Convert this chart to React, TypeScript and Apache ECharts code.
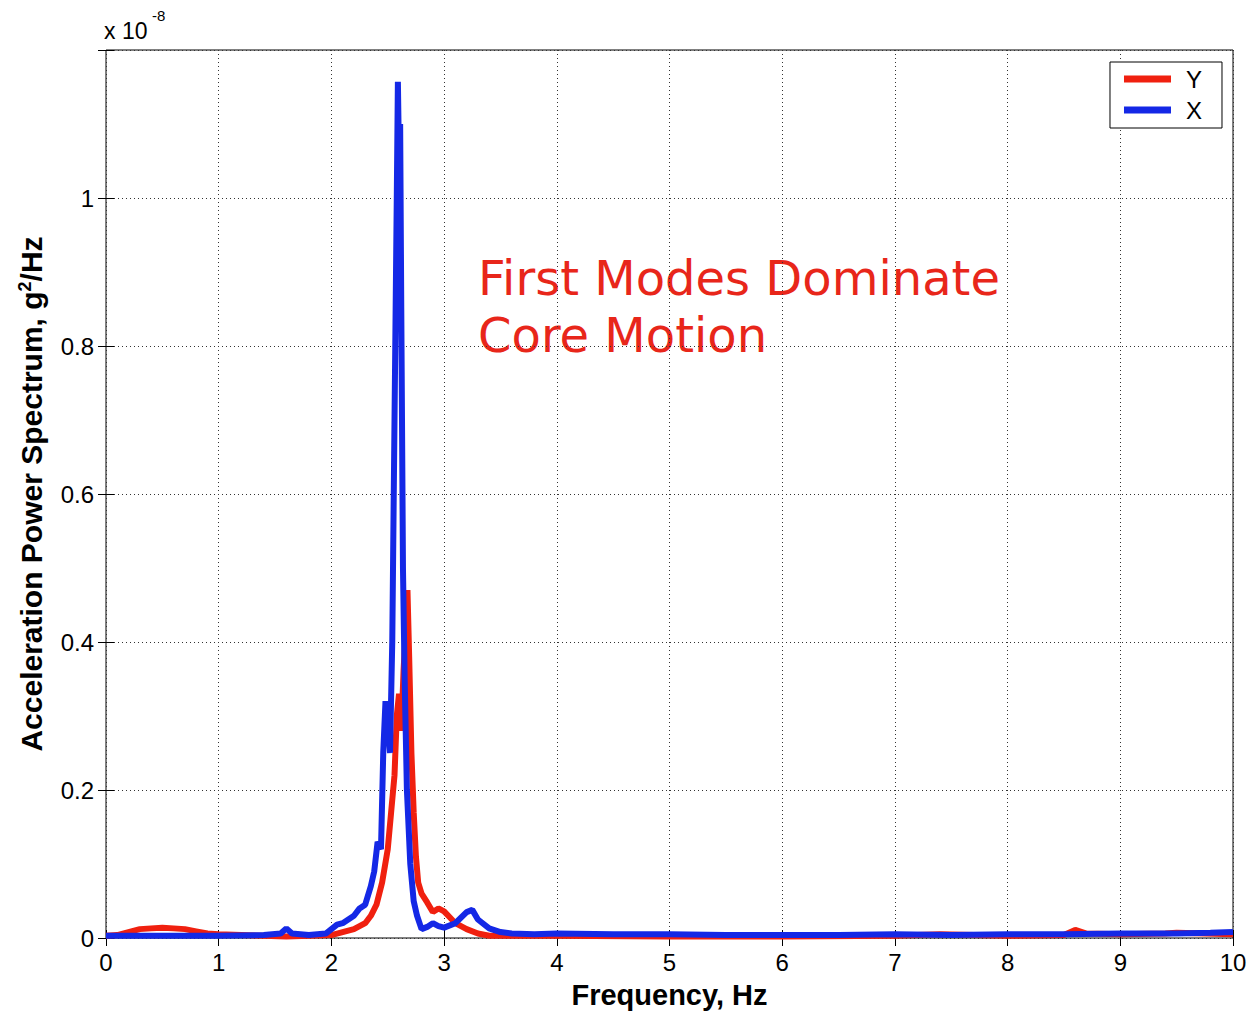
import React, { useEffect, useRef } from "react";
import * as echarts from "echarts";

// Frequency (Hz) and PSD (x1e-8 g^2/Hz)
const yFreq = [0, 0.1, 0.2, 0.3, 0.4, 0.5, 0.6, 0.7, 0.8, 0.9, 1.0, 1.2, 1.4, 1.6, 1.8, 2.0, 2.1, 2.2, 2.3, 2.35, 2.4, 2.45, 2.5, 2.53, 2.56, 2.58, 2.6, 2.62, 2.64, 2.66, 2.675, 2.69, 2.71, 2.73, 2.75, 2.77, 2.8, 2.85, 2.9, 2.95, 3.0, 3.05, 3.1, 3.2, 3.3, 3.4, 3.6, 4.0, 5.0, 6.0, 7.0, 7.4, 8.0, 8.5, 8.6, 8.7, 9.0, 9.4, 9.5, 10.0];
const yVals = [0.003, 0.004, 0.008, 0.012, 0.013, 0.014, 0.013, 0.012, 0.009, 0.006, 0.005, 0.004, 0.003, 0.002, 0.003, 0.004, 0.008, 0.012, 0.02, 0.03, 0.045, 0.075, 0.12, 0.17, 0.22, 0.3, 0.33, 0.28, 0.36, 0.42, 0.47, 0.38, 0.25, 0.17, 0.11, 0.075, 0.06, 0.048, 0.035, 0.04, 0.036, 0.028, 0.02, 0.012, 0.006, 0.003, 0.003, 0.003, 0.002, 0.002, 0.003, 0.005, 0.003, 0.004, 0.011, 0.006, 0.005, 0.006, 0.007, 0.005];

const xFreq = [0, 0.5, 1.0, 1.4, 1.55, 1.6, 1.65, 1.8, 1.95, 2.0, 2.05, 2.1, 2.15, 2.2, 2.25, 2.3, 2.35, 2.38, 2.41, 2.44, 2.46, 2.48, 2.5, 2.52, 2.54, 2.56, 2.58, 2.59, 2.6, 2.61, 2.62, 2.635, 2.65, 2.67, 2.7, 2.73, 2.76, 2.8, 2.85, 2.9, 2.95, 3.0, 3.1, 3.2, 3.25, 3.3, 3.4, 3.5, 3.6, 3.8, 4.0, 4.5, 5.0, 5.5, 6.0, 6.5, 7.0, 7.5, 8.0, 8.5, 9.0, 9.5, 9.8, 10.0];
const xVals = [0.003, 0.003, 0.003, 0.004, 0.006, 0.013, 0.006, 0.004, 0.006, 0.012, 0.018, 0.02, 0.025, 0.03, 0.04, 0.045, 0.07, 0.09, 0.13, 0.12, 0.25, 0.32, 0.3, 0.25, 0.4, 0.7, 1.0, 1.157, 1.05, 1.1, 0.85, 0.5, 0.35, 0.2, 0.1, 0.05, 0.03, 0.012, 0.015, 0.02, 0.016, 0.014, 0.02, 0.035, 0.038, 0.025, 0.013, 0.008, 0.006, 0.005, 0.006, 0.005, 0.005, 0.004, 0.004, 0.004, 0.005, 0.004, 0.005, 0.005, 0.006, 0.006, 0.007, 0.008];

const xTicks = [0, 1, 2, 3, 4, 5, 6, 7, 8, 9, 10];
const yTicks = [0, 0.2, 0.4, 0.6, 0.8, 1];

const RED = "#f0200f";
const BLUE = "#1428e6";
const FONT = "Liberation Sans";

export default function App() {
  const ref = useRef<HTMLDivElement>(null);
  useEffect(() => {
    document.body.style.margin = "0";
    document.body.style.overflow = "hidden";
    const chart = echarts.init(ref.current!, null, { renderer: "svg" });
    const grid = { left: 106, right: 18, top: 50, bottom: 75 };
    const gridLine = { show: true, lineStyle: { color: "#333", type: [1, 3] as any, width: 1 } };
    chart.setOption({
      animation: false,
      backgroundColor: "#fff",
      grid: { ...grid, show: true, borderColor: "#000", borderWidth: 1, containLabel: false, outerBoundsMode: "none" },
      legend: {
        orient: "vertical",
        right: 29,
        top: 62,
        backgroundColor: "#fff",
        borderColor: "#000",
        borderWidth: 1,
        padding: [5, 20, 6, 14],
        itemWidth: 47,
        itemHeight: 7,
        itemGap: 7,
        textStyle: { fontFamily: FONT, fontSize: 24, color: "#000", padding: [0, 0, 0, 10] },
        data: [
          { name: "Y", icon: "rect" },
          { name: "X", icon: "rect" },
        ],
      },
      xAxis: [
        {
          type: "value",
          min: 0,
          max: 10,
          interval: 1,
          name: "Frequency, Hz",
          nameLocation: "middle",
          nameGap: 42,
          nameTextStyle: { fontFamily: FONT, fontSize: 29, fontWeight: "bold", color: "#000" },
          axisLine: { show: false },
          axisTick: { show: true, inside: true, length: 8, lineStyle: { color: "#000" } },
          axisLabel: { fontFamily: FONT, fontSize: 24, color: "#000", margin: 12, formatter: (v: number) => (xTicks.includes(v) ? String(v) : "") },
          splitLine: gridLine,
        },
        {
          type: "value",
          position: "top",
          min: 0,
          max: 10,
          interval: 1,
          axisLine: { show: false },
          axisTick: { show: true, inside: true, length: 8, lineStyle: { color: "#000" } },
          axisLabel: { show: false },
          splitLine: { show: false },
        },
      ],
      yAxis: [
        {
          type: "value",
          min: 0,
          max: 1.2,
          interval: 0.2,
          name: "Acceleration Power Spectrum, g{sup|2}/Hz",
          nameLocation: "middle",
          nameGap: 60,
          nameRotate: 90,
          nameTextStyle: {
            fontFamily: FONT,
            fontSize: 30,
            fontWeight: "bold",
            color: "#000",
            rich: { sup: { fontFamily: FONT, fontSize: 18, fontWeight: "bold", color: "#000", verticalAlign: "top", padding: [0, 0, 12, 0] } },
          },
          axisLine: { show: false },
          axisTick: { show: true, inside: true, length: 8, lineStyle: { color: "#000" } },
          axisLabel: {
            fontFamily: FONT,
            fontSize: 24,
            color: "#000",
            margin: 12,
            formatter: (v: number) => {
              const t = yTicks.find((k) => Math.abs(k - v) < 1e-9);
              return t === undefined ? "" : String(t);
            },
          },
          splitLine: gridLine,
        },
        {
          type: "value",
          position: "right",
          min: 0,
          max: 1.2,
          interval: 0.2,
          axisLine: { show: false },
          axisTick: { show: true, inside: true, length: 8, lineStyle: { color: "#000" } },
          axisLabel: { show: false },
          splitLine: { show: false },
        },
      ],
      graphic: [
        { type: "text", left: 104, top: 19, style: { text: "x 10", fontFamily: FONT, fontSize: 23, fill: "#000" } },
        { type: "text", left: 152, top: 8, style: { text: "-8", fontFamily: FONT, fontSize: 15, fill: "#000" } },
        {
          type: "text",
          left: 478,
          top: 249,
          style: {
            text: "First Modes Dominate\nCore Motion",
            fontFamily: "DejaVu Sans",
            fontSize: 48,
            lineHeight: 57,
            fill: "#e8261a",
          },
        },
      ],
      series: [
        {
          name: "Y",
          type: "line",
          showSymbol: false,
          symbol: "none",
          data: yFreq.map((f, i) => [f, yVals[i]]),
          lineStyle: { color: RED, width: 6 },
          itemStyle: { color: RED },
          z: 2,
        },
        {
          name: "X",
          type: "line",
          showSymbol: false,
          symbol: "none",
          data: xFreq.map((f, i) => [f, xVals[i]]),
          lineStyle: { color: BLUE, width: 6 },
          itemStyle: { color: BLUE },
          z: 3,
        },
      ],
    });
    return () => chart.dispose();
  }, []);
  return <div ref={ref} style={{ position: "absolute", left: 0, top: 0, width: 1251, height: 1013, overflow: "hidden" }} />;
}
